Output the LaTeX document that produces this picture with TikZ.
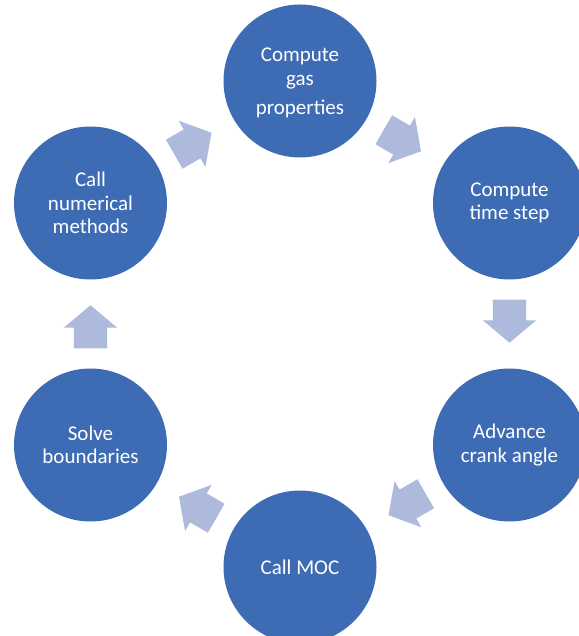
\documentclass[tikz,border=0pt]{standalone}
\usepackage{fontspec}
\setmainfont{Carlito}
\usetikzlibrary{shapes.arrows, calc}
\definecolor{stepblue}{RGB}{62,108,180}
\definecolor{arrowblue}{RGB}{174,186,220}
\tikzset{
    stage/.style={circle, minimum size=153pt, inner sep=0pt, fill=stepblue, text=white, align=center, font=\fontsize{21}{23.5}\selectfont},
    cyclearrow/.style={single arrow, anchor=tail, fill=arrowblue, minimum height=43pt, inner xsep=0pt, inner ysep=16.5pt, single arrow head extend=10pt, single arrow tip angle=100}
}

\begin{document}
\begin{tikzpicture}[x=1pt, y=1pt]
    \useasboundingbox (-300,-312) rectangle (278,324);

    % Cycle stages
    \node[stage, text height=71pt] (gas) at (0,243) {Compute\\[1pt] gas\\[5.5pt] properties};
    \node[stage] (timestep) at (209.5,121) {Compute\\ time step};
    \node[stage] (crank) at (209.5,-121) {Advance\\ crank angle};
    \node[stage] (moc) at (0,-243) {Call MOC};
    \node[stage] (boundaries) at (-209.5,-121) {Solve\\ boundaries};
    \node[stage] (numerical) at (-209.5,121) {Call\\ numerical\\ methods};

    % Block arrows between stages
    \node[cyclearrow, rotate=-30] (gas-timestep) at ($(gas)!0.5!(timestep)!24.5pt!(gas)$) {};
    \node[cyclearrow, rotate=-90] (timestep-crank) at ($(timestep)!0.5!(crank)!24.5pt!(timestep)$) {};
    \node[cyclearrow, rotate=-150] (crank-moc) at ($(crank)!0.5!(moc)!24.5pt!(crank)$) {};
    \node[cyclearrow, rotate=150] (moc-boundaries) at ($(moc)!0.5!(boundaries)!24.5pt!(moc)$) {};
    \node[cyclearrow, rotate=90] (boundaries-numerical) at ($(boundaries)!0.5!(numerical)!24.5pt!(boundaries)$) {};
    \node[cyclearrow, rotate=30] (numerical-gas) at ($(numerical)!0.5!(gas)!24.5pt!(numerical)$) {};
\end{tikzpicture}
\end{document}
